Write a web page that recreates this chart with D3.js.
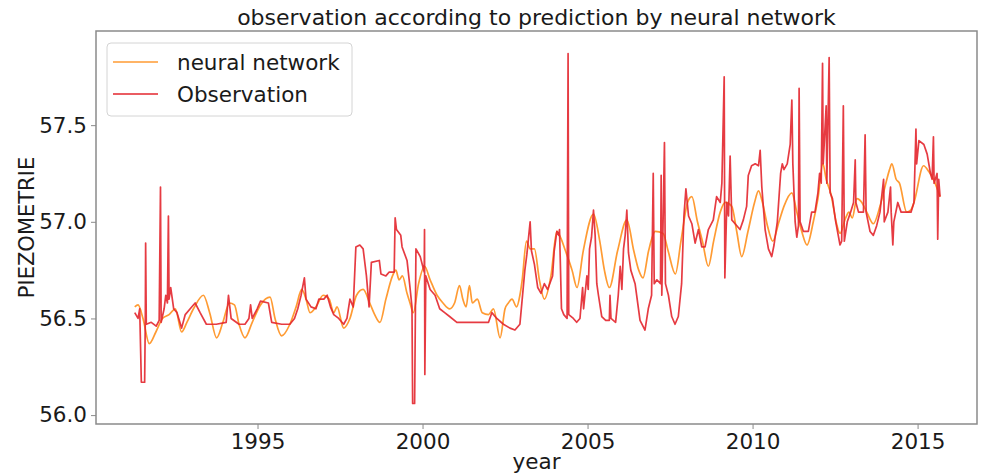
<!DOCTYPE html>
<html>
<head>
<meta charset="utf-8">
<script src="https://d3js.org/d3.v7.min.js"></script>
<style>
  body { margin: 0; background: #fff; }
  text { font-family: "DejaVu Sans", sans-serif; fill: #1a1a1a; }
</style>
</head>
<body>
<div class="chart"></div>
<script>
// series: [year, piezometric level]
const neuralNetwork = [
  [1991.28, 56.56], [1991.38, 56.57], [1991.53, 56.50], [1991.72, 56.37], [1991.92, 56.43],
  [1992.12, 56.50], [1992.32, 56.52], [1992.51, 56.55], [1992.70, 56.43], [1992.86, 56.48],
  [1993.06, 56.55], [1993.36, 56.62], [1993.55, 56.53], [1993.76, 56.40], [1993.95, 56.48],
  [1994.15, 56.58], [1994.30, 56.57], [1994.44, 56.47], [1994.62, 56.40], [1994.84, 56.48],
  [1995.09, 56.57], [1995.38, 56.61], [1995.53, 56.50], [1995.73, 56.41], [1995.98, 56.47],
  [1996.17, 56.56], [1996.34, 56.65], [1996.47, 56.60], [1996.59, 56.53], [1996.77, 56.56],
  [1996.99, 56.62], [1997.17, 56.60], [1997.31, 56.53], [1997.41, 56.56], [1997.61, 56.45],
  [1997.80, 56.50], [1998.00, 56.62], [1998.20, 56.65], [1998.40, 56.58], [1998.55, 56.52],
  [1998.71, 56.48], [1998.89, 56.60], [1999.09, 56.72], [1999.19, 56.75], [1999.29, 56.70],
  [1999.39, 56.72], [1999.53, 56.63], [1999.62, 56.58], [1999.72, 56.53], [1999.88, 56.68],
  [2000.06, 56.77], [2000.23, 56.70], [2000.44, 56.62], [2000.62, 56.58], [2000.82, 56.55],
  [2000.97, 56.58], [2001.12, 56.67], [2001.22, 56.60], [2001.32, 56.56], [2001.42, 56.67],
  [2001.51, 56.58], [2001.66, 56.60], [2001.81, 56.53], [2002.00, 56.52], [2002.15, 56.55],
  [2002.35, 56.40], [2002.50, 56.55], [2002.60, 56.58], [2002.71, 56.60], [2002.85, 56.56],
  [2002.95, 56.62], [2003.02, 56.70], [2003.15, 56.90], [2003.26, 56.86], [2003.39, 56.86],
  [2003.54, 56.70], [2003.69, 56.60], [2003.89, 56.72], [2004.07, 56.95], [2004.18, 56.92],
  [2004.33, 56.85], [2004.53, 56.75], [2004.68, 56.66], [2004.87, 56.85], [2005.18, 57.04],
  [2005.37, 56.90], [2005.51, 56.75], [2005.66, 56.66], [2005.91, 56.85], [2006.19, 57.01],
  [2006.40, 56.85], [2006.55, 56.75], [2006.68, 56.71], [2006.85, 56.85], [2007.05, 56.95],
  [2007.29, 56.94], [2007.44, 56.85], [2007.66, 56.73], [2007.83, 56.90], [2008.03, 57.10],
  [2008.16, 57.13], [2008.33, 57.00], [2008.48, 56.90], [2008.66, 56.77], [2008.82, 56.90],
  [2009.02, 57.05], [2009.17, 57.10], [2009.37, 57.08], [2009.52, 56.95], [2009.67, 56.82],
  [2009.86, 56.95], [2010.06, 57.10], [2010.18, 57.16], [2010.30, 57.10], [2010.45, 56.98],
  [2010.61, 56.90], [2010.80, 57.00], [2010.95, 57.08], [2011.19, 57.15], [2011.34, 57.05],
  [2011.49, 56.95], [2011.65, 56.88], [2011.84, 57.00], [2011.98, 57.12], [2012.13, 57.30],
  [2012.23, 57.22], [2012.38, 57.14], [2012.53, 57.00], [2012.65, 56.94], [2012.82, 57.02],
  [2012.92, 57.05], [2013.02, 57.02], [2013.16, 57.12], [2013.31, 57.10], [2013.46, 57.05],
  [2013.66, 56.99], [2013.86, 57.08], [2014.01, 57.18], [2014.15, 57.27], [2014.22, 57.30],
  [2014.35, 57.22], [2014.45, 57.20], [2014.67, 57.05], [2014.79, 57.06], [2014.89, 57.10],
  [2015.18, 57.29], [2015.34, 57.26], [2015.48, 57.22], [2015.68, 57.13]
];

const observation = [
  [1991.28, 56.53], [1991.38, 56.50], [1991.43, 56.55], [1991.48, 56.17], [1991.58, 56.17],
  [1991.60, 56.50], [1991.61, 56.89], [1991.63, 56.47], [1991.78, 56.48], [1991.93, 56.46],
  [1992.02, 56.49], [1992.06, 57.18], [1992.08, 56.48], [1992.17, 56.55], [1992.22, 56.62],
  [1992.27, 56.58], [1992.30, 57.03], [1992.32, 56.60], [1992.37, 56.66], [1992.46, 56.55],
  [1992.56, 56.53], [1992.70, 56.45], [1992.81, 56.52], [1992.96, 56.55], [1993.11, 56.58],
  [1993.26, 56.53], [1993.45, 56.47], [1993.75, 56.47], [1994.05, 56.48], [1994.12, 56.62],
  [1994.20, 56.50], [1994.44, 56.47], [1994.62, 56.47], [1994.74, 56.50], [1994.79, 56.57],
  [1994.84, 56.50], [1994.99, 56.55], [1995.09, 56.59], [1995.33, 56.58], [1995.43, 56.48],
  [1995.73, 56.47], [1995.98, 56.47], [1996.12, 56.50], [1996.22, 56.55], [1996.32, 56.62],
  [1996.42, 56.71], [1996.47, 56.60], [1996.62, 56.56], [1996.77, 56.55], [1996.86, 56.60],
  [1997.01, 56.60], [1997.11, 56.62], [1997.21, 56.56], [1997.31, 56.52], [1997.46, 56.50],
  [1997.61, 56.47], [1997.71, 56.50], [1997.80, 56.60], [1997.90, 56.56], [1997.98, 56.87],
  [1998.10, 56.88], [1998.20, 56.86], [1998.30, 56.72], [1998.38, 56.56], [1998.45, 56.79],
  [1998.69, 56.80], [1998.74, 56.73], [1998.89, 56.72], [1998.99, 56.74], [1999.14, 56.74],
  [1999.17, 57.02], [1999.21, 56.96], [1999.34, 56.93], [1999.38, 56.87], [1999.53, 56.80],
  [1999.62, 56.66], [1999.68, 56.56], [1999.70, 56.06], [1999.76, 56.06], [1999.80, 56.86],
  [1999.93, 56.82], [2000.05, 56.74], [2000.06, 56.96], [2000.07, 56.21], [2000.10, 56.72],
  [2000.23, 56.65], [2000.38, 56.62], [2000.52, 56.55], [2000.67, 56.53], [2000.82, 56.51],
  [2001.04, 56.48], [2002.00, 56.48], [2002.10, 56.53], [2002.25, 56.50], [2002.45, 56.47],
  [2002.65, 56.45], [2002.80, 56.44], [2002.95, 56.47], [2003.02, 56.60], [2003.10, 56.75],
  [2003.16, 56.83], [2003.26, 57.00], [2003.30, 56.85], [2003.39, 56.78], [2003.49, 56.66],
  [2003.59, 56.63], [2003.69, 56.68], [2003.79, 56.65], [2003.94, 56.72], [2003.99, 56.85],
  [2004.07, 56.95], [2004.13, 56.93], [2004.15, 56.96], [2004.21, 56.55], [2004.28, 56.52],
  [2004.38, 56.50], [2004.41, 57.87], [2004.43, 56.52], [2004.57, 56.50], [2004.67, 56.48],
  [2004.77, 56.50], [2004.85, 56.66], [2004.88, 56.55], [2004.92, 56.62], [2004.98, 56.72],
  [2005.02, 56.65], [2005.06, 56.86], [2005.12, 56.92], [2005.18, 57.06], [2005.23, 56.93],
  [2005.28, 56.68], [2005.33, 56.62], [2005.43, 56.51], [2005.55, 56.49], [2005.66, 56.49],
  [2005.68, 56.62], [2005.71, 56.50], [2005.85, 56.48], [2005.93, 56.62], [2005.99, 56.77],
  [2006.04, 56.65], [2006.09, 56.86], [2006.14, 56.93], [2006.19, 57.06], [2006.24, 56.84],
  [2006.31, 56.75], [2006.44, 56.68], [2006.59, 56.49], [2006.74, 56.44], [2006.84, 56.55],
  [2006.94, 56.62], [2006.99, 57.25], [2007.02, 56.68], [2007.10, 56.70], [2007.21, 56.68],
  [2007.23, 57.24], [2007.25, 56.62], [2007.33, 57.41], [2007.36, 56.68], [2007.45, 56.62],
  [2007.55, 56.51], [2007.65, 56.47], [2007.75, 56.51], [2007.85, 56.68], [2007.92, 57.03],
  [2007.98, 57.17], [2008.06, 57.03], [2008.16, 56.99], [2008.26, 56.89], [2008.36, 56.96],
  [2008.46, 56.87], [2008.56, 56.87], [2008.66, 56.96], [2008.81, 57.01], [2008.91, 57.13],
  [2009.02, 57.10], [2009.07, 57.20], [2009.14, 57.75], [2009.16, 56.71], [2009.22, 57.10],
  [2009.27, 57.03], [2009.32, 57.34], [2009.37, 57.01], [2009.47, 56.99], [2009.62, 56.96],
  [2009.72, 57.01], [2009.82, 57.08], [2009.87, 57.24], [2009.97, 57.29], [2010.08, 57.30],
  [2010.18, 57.29], [2010.23, 57.37], [2010.28, 57.18], [2010.38, 56.96], [2010.48, 56.86],
  [2010.58, 56.82], [2010.65, 56.88], [2010.75, 57.00], [2010.85, 57.25], [2010.90, 57.30],
  [2010.95, 57.27], [2011.05, 57.30], [2011.14, 57.40], [2011.19, 57.63], [2011.22, 57.30],
  [2011.29, 57.00], [2011.34, 56.92], [2011.39, 56.98], [2011.41, 57.69], [2011.44, 57.00],
  [2011.54, 56.95], [2011.69, 56.95], [2011.79, 57.05], [2011.89, 57.05], [2011.98, 57.15],
  [2012.03, 57.25], [2012.08, 57.20], [2012.12, 57.82], [2012.14, 57.30], [2012.23, 57.60],
  [2012.25, 57.20], [2012.32, 57.85], [2012.35, 57.15], [2012.42, 57.12], [2012.52, 57.00],
  [2012.65, 56.88], [2012.70, 56.90], [2012.75, 57.60], [2012.78, 56.90], [2012.87, 57.00],
  [2012.97, 57.05], [2013.06, 57.10], [2013.11, 57.32], [2013.13, 57.10], [2013.21, 57.05],
  [2013.36, 57.05], [2013.41, 57.45], [2013.44, 57.05], [2013.56, 56.95], [2013.66, 56.93],
  [2013.76, 56.98], [2013.86, 57.05], [2013.97, 57.22], [2013.99, 57.00], [2014.10, 57.05],
  [2014.18, 57.18], [2014.20, 57.05], [2014.25, 56.88], [2014.28, 57.00], [2014.40, 57.10],
  [2014.50, 57.05], [2014.65, 57.05], [2014.80, 57.05], [2014.89, 57.10], [2014.95, 57.48],
  [2014.97, 57.30], [2015.04, 57.42], [2015.19, 57.40], [2015.29, 57.35], [2015.39, 57.25],
  [2015.44, 57.22], [2015.48, 57.44], [2015.50, 57.20], [2015.59, 57.25], [2015.61, 56.91],
  [2015.64, 57.22], [2015.68, 57.13]
];

const yearTicks = [1995, 2000, 2005, 2010, 2015];
const levelTicks = [56.0, 56.5, 57.0, 57.5];
const seriesNames = ["neural network", "Observation"];
const seriesColors = ["#ff9b33", "#e3262e"];

const width = 981,
  height = 476;
const box = { left: 96, right: 977, top: 31, bottom: 424 };

const svg = d3
  .select(".chart")
  .append("svg")
  .attr("width", width)
  .attr("height", height);

// x and y scales, padded like matplotlib's default margins
const x = d3
  .scaleLinear()
  .domain([1990.106, 2016.8])
  .range([box.left, box.right]);

const y = d3
  .scaleLinear()
  .domain([55.954, 57.987])
  .range([box.bottom, box.top]);

// the network output is smooth, the observations are raw
const smoothLine = d3
  .line()
  .curve(d3.curveMonotoneX)
  .x(d => x(d[0]))
  .y(d => y(d[1]));

const rawLine = d3
  .line()
  .x(d => x(d[0]))
  .y(d => y(d[1]));

const plot = svg.append("g");

plot
  .append("path")
  .datum(neuralNetwork)
  .attr("fill", "none")
  .attr("stroke", seriesColors[0])
  .attr("stroke-width", 1.7)
  .attr("stroke-linejoin", "round")
  .attr("d", smoothLine);

plot
  .append("path")
  .datum(observation)
  .attr("fill", "none")
  .attr("stroke", seriesColors[1])
  .attr("stroke-opacity", 0.9)
  .attr("stroke-width", 1.7)
  .attr("stroke-linejoin", "round")
  .attr("d", rawLine);

// frame
svg
  .append("rect")
  .attr("x", box.left)
  .attr("y", box.top)
  .attr("width", box.right - box.left)
  .attr("height", box.bottom - box.top)
  .attr("fill", "none")
  .attr("stroke", "#8a8a8a")
  .attr("stroke-width", 1.5);

// axes
const xAxis = svg
  .append("g")
  .attr("transform", "translate(0," + box.bottom + ")")
  .call(
    d3.axisBottom(x)
      .tickValues(yearTicks)
      .tickFormat(d3.format("d"))
      .tickSize(5)
      .tickPadding(5)
  );

const yAxis = svg
  .append("g")
  .attr("transform", "translate(" + box.left + ",0)")
  .call(
    d3.axisLeft(y)
      .tickValues(levelTicks)
      .tickFormat(d3.format(".1f"))
      .tickSize(5)
      .tickPadding(4)
  );

[xAxis, yAxis].forEach(ax => {
  ax.select(".domain").remove();
  ax.selectAll(".tick line").attr("stroke", "#8a8a8a");
  ax.selectAll(".tick text")
    .attr("fill", "#1a1a1a")
    .style("font-size", "21.5px")
    .style("font-family", "'DejaVu Sans', sans-serif");
});

// titles
svg
  .append("text")
  .attr("x", (box.left + box.right) / 2)
  .attr("y", 25)
  .attr("text-anchor", "middle")
  .style("font-size", "22px")
  .text("observation according to prediction by neural network");

svg
  .append("text")
  .attr("x", (box.left + box.right) / 2)
  .attr("y", 469)
  .attr("text-anchor", "middle")
  .style("font-size", "21.5px")
  .text("year");

svg
  .append("text")
  .attr("transform", "translate(34," + (box.top + box.bottom) / 2 + ") rotate(-90)")
  .attr("text-anchor", "middle")
  .style("font-size", "21px")
  .text("PIEZOMETRIE");

// legend
const legend = svg.append("g").attr("transform", "translate(107,43)");

legend
  .append("rect")
  .attr("width", 245)
  .attr("height", 73)
  .attr("rx", 4)
  .attr("fill", "#fff")
  .attr("fill-opacity", 0.85)
  .attr("stroke", "#d4d4d4");

const item = legend
  .selectAll(".legends")
  .data(seriesNames)
  .enter()
  .append("g")
  .attr("class", "legends")
  .attr("transform", (d, i) => "translate(0," + (19 + i * 32) + ")");

item
  .append("line")
  .attr("x1", 6)
  .attr("x2", 51)
  .attr("stroke", (d, i) => seriesColors[i])
  .attr("stroke-width", 1.7);

item
  .append("text")
  .attr("x", 70)
  .attr("dy", "0.35em")
  .style("font-size", "21.5px")
  .text(d => d);
</script>
</body>
</html>
